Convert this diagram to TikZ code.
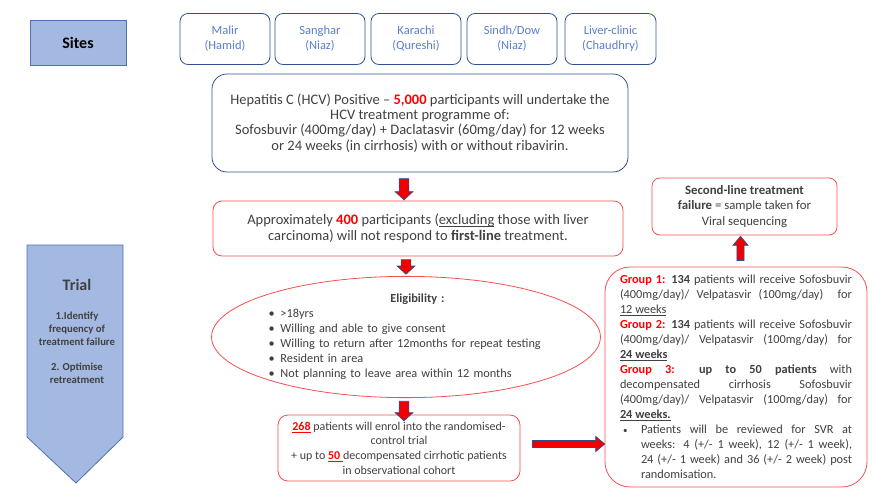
\documentclass[tikz,border=0pt]{standalone}
\usepackage{fontspec}
\setmainfont{Carlito}
\usetikzlibrary{calc}
\usetikzlibrary{shapes.geometric}
\usetikzlibrary{shapes.arrows}

\definecolor{sitefill}{RGB}{164,185,225}
\definecolor{siteedge}{RGB}{79,113,176}
\definecolor{boxblue}{RGB}{47,82,143}
\definecolor{sitetext}{RGB}{90,125,200}
\definecolor{boxred}{RGB}{245,80,80}
\definecolor{numred}{RGB}{255,0,0}
\definecolor{textgray}{RGB}{64,64,64}
\definecolor{arrowred}{RGB}{240,0,0}

\tikzset{
  sitehead/.style={draw=siteedge, fill=sitefill, line width=0.8pt},
  sitebox/.style={draw=boxblue, rounded corners=8pt, line width=0.8pt, minimum width=90pt, minimum height=51pt,
    align=center, text=sitetext, font=\fontsize{12.5}{15}\selectfont},
  bluebox/.style={draw=boxblue, rounded corners=15pt, line width=0.8pt, align=center, text=textgray},
  redbox/.style={draw=boxred, line width=0.8pt, align=center, text=textgray},
  fatarrow/.style={single arrow, draw=boxblue, fill=arrowred, line width=0.7pt, inner xsep=0pt,
    inner ysep=4.5pt, single arrow head extend=4pt, single arrow tip angle=95},
  thinarrow/.style={inner ysep=3.2pt, single arrow head extend=4pt, single arrow tip angle=80}
}

\newcommand{\rednum}[1]{\textcolor{numred}{\textbf{#1}}}
\newsavebox{\ulnbox}
\newcommand{\uln}[1]{\sbox{\ulnbox}{#1}\rlap{\rule[-2.2pt]{\wd\ulnbox}{0.6pt}}\usebox{\ulnbox}}
\newcommand{\blockarrow}[3][]{%
  \path let \p1=(#2), \p2=(#3) in
    node[fatarrow, #1, minimum height={veclen(\x2-\x1,\y2-\y1)}, rotate={atan2(\y2-\y1,\x2-\x1)}]
      at ($(\p1)!0.5!(\p2)$) {};}

\begin{document}
\begin{tikzpicture}[x=1pt, y=-1pt]
  \useasboundingbox (0,0) rectangle (872,491);

  % Sites row
  \node[sitehead, minimum width=96pt, minimum height=45pt, font=\fontsize{16}{18}\selectfont\bfseries]
    (sites) at (78,42.5) {Sites};
  \node[sitebox] (malir) at (225,39) {Malir\\(Hamid)};
  \node[sitebox] (sanghar) at (320,39) {Sanghar\\(Niaz)};
  \node[sitebox] (karachi) at (416,39) {Karachi\\(Qureshi)};
  \node[sitebox] (sindh) at (512,39) {Sindh/Dow\\(Niaz)};
  \node[sitebox, minimum width=91pt] (liver) at (610.5,39) {Liver-clinic\\(Chaudhry)};

  % Trial chevron
  \draw[sitehead] (27,245) -- (123,245) -- (123,437) -- (76,483) -- (27,437) -- cycle;
  \node[text=textgray, font=\fontsize{16}{18}\selectfont\bfseries] (trial) at (77,285) {Trial};
  \node[text=textgray, align=center, font=\fontsize{10.7}{13}\selectfont\bfseries] (aims) at (77,348)
    {1.Identify\\frequency of\\treatment failure\\[12pt]2. Optimise\\retreatment};

  % Main flow
  \node[bluebox, minimum width=416pt, minimum height=98pt, font=\fontsize{14.5}{15.2}\selectfont] (hcv) at (420,123)
    {Hepatitis C (HCV) Positive -- \rednum{5,000} participants will undertake the\\
     HCV treatment programme of:\\
     Sofosbuvir (400mg/day) + Daclatasvir (60mg/day) for 12 weeks\\
     or 24 weeks (in cirrhosis) with or without ribavirin.};
  \node[redbox, rounded corners=9pt, minimum width=410pt, minimum height=55pt, font=\fontsize{14.5}{16}\selectfont]
    (approx) at (418,228.5)
    {Approximately \rednum{400} participants (\uln{excluding} those with liver\\
     carcinoma) will not respond to \textbf{first-line} treatment.};
  \node[ellipse, draw=boxred, line width=0.8pt, minimum width=385pt, minimum height=116pt, inner sep=0pt,
    text width=275pt, align=left, text=textgray, font=\fontsize{12.3}{15}\selectfont] (elig) at (406,337)
    {{\centering\hspace*{23pt}\textbf{Eligibility :}\par}
     \makebox[12pt][l]{•}>18yrs\par
     \makebox[12pt][l]{•}Willing and able to give consent\par
     \makebox[12pt][l]{•}Willing to return after 12months for repeat testing\par
     \makebox[12pt][l]{•}Resident in area\par
     \makebox[12pt][l]{•}Not planning to leave area within 12 months};
  \node[redbox, rounded corners=10pt, minimum width=242pt, minimum height=66pt, font=\fontsize{12}{14.7}\selectfont]
    (enrol) at (399,448)
    {\rednum{\uln{268}} patients will enrol into the randomised-\\
     control trial\\
     + up to \rednum{\uln{50\ }}decompensated cirrhotic patients\\
     in observational cohort};
  \node[redbox, rounded corners=25pt, minimum width=262pt, minimum height=220pt, inner xsep=15pt,
    text width=232pt, align=justify, font=\fontsize{12.3}{15}\selectfont] (groups) at (736,377)
    {\emergencystretch=20pt
     \textcolor{numred}{\textbf{Group 1:}} \textbf{134} patients will receive Sofosbuvir\linebreak
     (400mg/day)/ Velpatasvir (100mg/day)\ \ for\linebreak
     \uln{12 weeks}\par
     \textcolor{numred}{\textbf{Group 2:}} \textbf{134} patients will receive Sofosbuvir\linebreak
     (400mg/day)/ Velpatasvir (100mg/day) for\linebreak
     \uln{\textbf{24 weeks}}\par
     \textcolor{numred}{\textbf{Group 3:}} \textbf{up to 50 patients} with\linebreak
     decompensated cirrhosis Sofosbuvir\linebreak
     (400mg/day)/ Velpatasvir (100mg/day) for\linebreak
     \uln{\textbf{24 weeks.}}\par
     \noindent\hspace*{3pt}\makebox[18pt][l]{\small•}\parbox[t]{211pt}{Patients will be reviewed for SVR at\linebreak
     weeks: 4 (+/- 1 week), 12 (+/- 1 week),\linebreak
     24 (+/- 1 week) and 36 (+/- 2 week) post\linebreak
     randomisation.}};
  \node[redbox, rounded corners=8pt, minimum width=185pt, minimum height=57pt, font=\fontsize{12.8}{15.5}\selectfont]
    (second) at (744.5,206.5)
    {\textbf{Second-line treatment}\\
     \textbf{failure} = sample taken for\\
     Viral sequencing};

  % Block arrows
  \blockarrow{$(hcv.south -| elig.center)+(-2,4)$}{$(approx.north -| elig.center)+(-2,-3)$}
  \blockarrow{$(approx.south -| elig.center)+(0,1)$}{$(elig.north)+(0,-4)$}
  \blockarrow{$(elig.south)+(-2,1)$}{$(enrol.north -| elig.south)+(-2,4)$}
  \blockarrow[thinarrow]{$(enrol.east)+(10,-4)$}{$(groups.west)+(-2,67)$}
  \blockarrow[thinarrow]{$(groups.north -| second.south)+(-4,-4)$}{$(second.south)+(-4,3)$}
\end{tikzpicture}
\end{document}
